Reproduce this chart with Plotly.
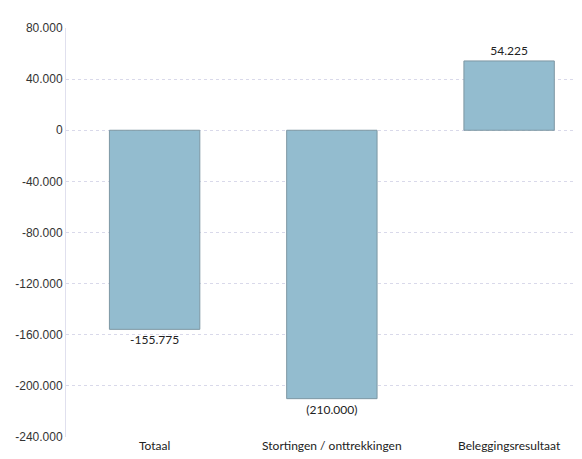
import plotly.graph_objects as go

categories = ["Totaal", "Stortingen / onttrekkingen", "Beleggingsresultaat"]
values = [-155775, -210000, 54225]
value_labels = ["-155.775", "(210.000)", "54.225"]
tick_vals = [80000, 40000, 0, -40000, -80000, -120000, -160000, -200000, -240000]
tick_text = ["80.000", "40.000", "0", "-40.000", "-80.000", "-120.000", "-160.000", "-200.000", "-240.000"]

fig = go.Figure(go.Bar(
    x=categories, y=values, text=value_labels, textposition="outside",
    cliponaxis=False, width=0.51,
    marker=dict(color="#93bccf", line=dict(color="#7d97a3", width=1)),
    textfont=dict(family="Lato", size=12, color="#222222"),
    hoverinfo="skip",
))

# the page adds an 8px body margin, so the figure is slightly smaller
fig.update_layout(
    width=574, height=451,
    margin=dict(l=58, r=2, t=20, b=22),
    paper_bgcolor="white", plot_bgcolor="white",
    showlegend=False,
    xaxis=dict(range=[-0.5, 2.4], showgrid=False, showline=False, zeroline=False,
               automargin=False, ticks="", ticklabelstandoff=0,
               tickfont=dict(family="Lato", size=12, color="#222222")),
    yaxis=dict(range=[-240000, 80000], tickvals=tick_vals, ticktext=tick_text,
               automargin=False,
               showgrid=True, gridcolor="#d9d9ea", griddash="dot", gridwidth=1,
               zeroline=False, showline=True, linecolor="#e0e0ee", linewidth=1,
               ticks="", tickfont=dict(family="Liberation Sans", size=12, color="#333333")),
    bargap=0.49,
)

fig.write_html("out.html")
